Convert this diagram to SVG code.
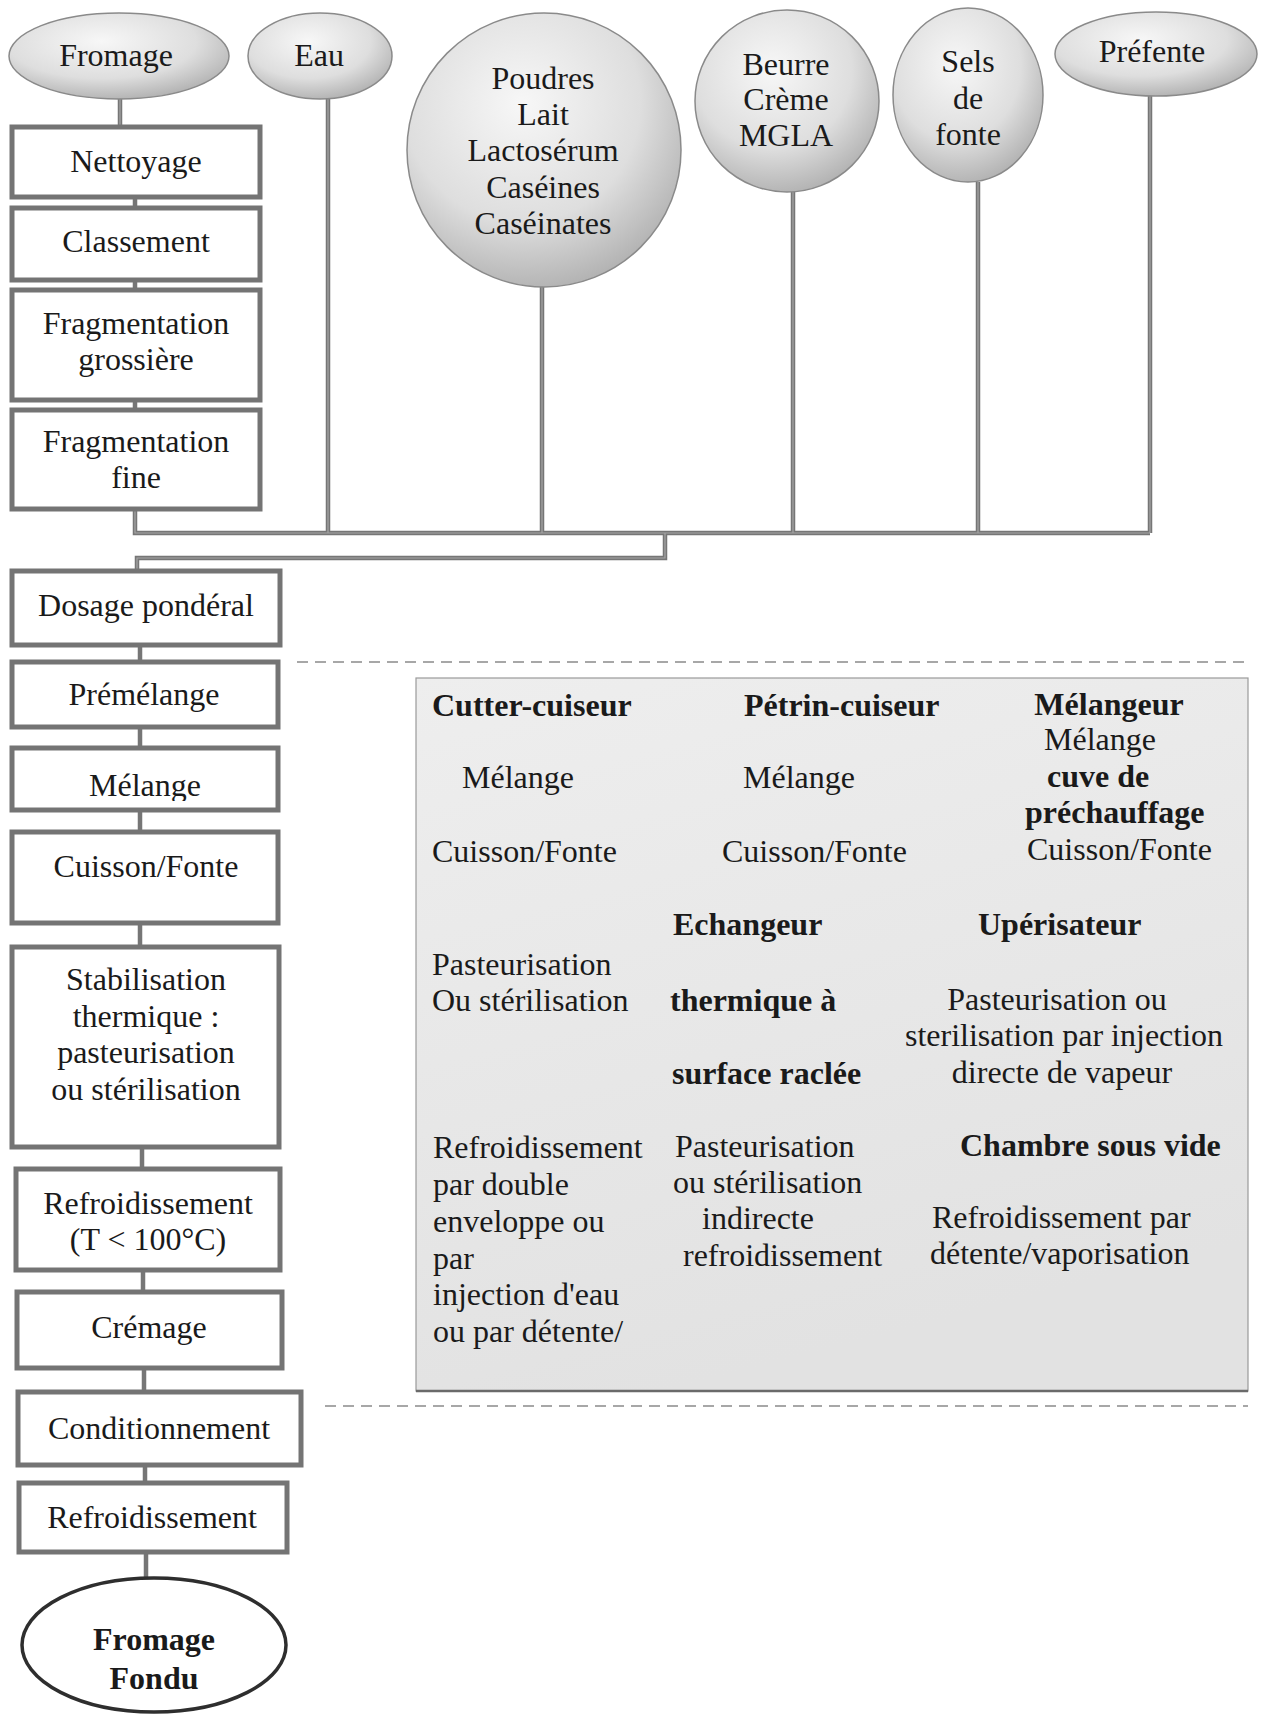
<svg xmlns="http://www.w3.org/2000/svg" width="1261" height="1716" viewBox="0 0 1261 1716">
<style>
  text { font-family: "Liberation Serif", "Times New Roman", serif; font-size: 32px; fill: #1a1a1a; }
  .c { text-anchor: middle; }
  .b { font-weight: bold; }
  .box { fill: #ffffff; stroke: #747474; stroke-width: 5; }
  .oval { fill: url(#og); stroke: #8a8a8a; stroke-width: 1.5; }
  .ln { fill: none; stroke: #767676; stroke-width: 4.5; stroke-linejoin: miter; }
  .lnin { fill: none; stroke: #a6a6a6; stroke-width: 1.2; }
  .dash { fill: none; stroke: #8a8a8a; stroke-width: 1.6; stroke-dasharray: 11 7; }
</style>
<defs>
  <radialGradient id="og" cx="0.42" cy="0.33" r="0.72">
    <stop offset="0" stop-color="#f7f7f7"/>
    <stop offset="0.6" stop-color="#dedede"/>
    <stop offset="1" stop-color="#adadad"/>
  </radialGradient>
  <linearGradient id="pg" x1="0" y1="0" x2="0.3" y2="1">
    <stop offset="0" stop-color="#eeeeee"/>
    <stop offset="1" stop-color="#e2e2e2"/>
  </linearGradient>
  <clipPath id="clipMel"><rect x="12" y="748" width="266" height="53"/></clipPath>
</defs>
<rect width="1261" height="1716" fill="#ffffff"/>

<g id="connectors">
  <path class="ln" d="M120 99 V127 M135 197 V208 M135 280 V290 M135 400 V410 M135 509 V533 H1150 M328 99 V533 M542 287 V533 M793 192 V533 M978 182 V533 M1150 96 V533 M665 533 V558 H137 V571 M140 645 V662 M140 727 V748 M140 810 V832 M140 923 V947 M142 1147 V1169 M143 1270 V1292 M144 1368 V1392 M145 1465 V1483 M146 1552 V1578"/>
  <path class="lnin" d="M120 99 V127 M135 509 V533 H1150 M328 99 V533 M542 287 V533 M793 192 V533 M978 182 V533 M1150 96 V533 M665 533 V558 H137 V571"/>
</g>

<g id="separators">
  <line class="dash" x1="297" y1="662" x2="1248" y2="662"/>
  <line class="dash" x1="325" y1="1406" x2="1248" y2="1406"/>
</g>

<g id="n-fromage"><ellipse class="oval" cx="119" cy="56" rx="110" ry="43"/><text class="c" x="116" y="66">Fromage</text></g>
<g id="n-eau"><ellipse class="oval" cx="320" cy="56" rx="72" ry="43"/><text class="c" x="319" y="66">Eau</text></g>
<g id="n-poudres"><ellipse class="oval" cx="544" cy="150" rx="137" ry="137"/>
  <text class="c" x="543" y="89">Poudres</text><text class="c" x="543" y="125">Lait</text><text class="c" x="543" y="161">Lactosérum</text><text class="c" x="543" y="198">Caséines</text><text class="c" x="543" y="234">Caséinates</text></g>
<g id="n-beurre"><ellipse class="oval" cx="787" cy="101" rx="92" ry="91"/>
  <text class="c" x="786" y="75">Beurre</text><text class="c" x="786" y="110">Crème</text><text class="c" x="786" y="146">MGLA</text></g>
<g id="n-sels"><ellipse class="oval" cx="968" cy="95" rx="75" ry="87"/>
  <text class="c" x="968" y="72">Sels</text><text class="c" x="968" y="109">de</text><text class="c" x="968" y="145">fonte</text></g>
<g id="n-prefente"><ellipse class="oval" cx="1156" cy="54" rx="101" ry="42"/><text class="c" x="1152" y="62">Préfente</text></g>

<g id="n-nettoyage"><rect class="box" x="12" y="127" width="248" height="70"/><text class="c" x="136" y="172">Nettoyage</text></g>
<g id="n-classement"><rect class="box" x="12" y="208" width="248" height="72"/><text class="c" x="136" y="252">Classement</text></g>
<g id="n-fraggros"><rect class="box" x="12" y="290" width="248" height="110"/><text class="c" x="136" y="334">Fragmentation</text><text class="c" x="136" y="370">grossière</text></g>
<g id="n-fragfine"><rect class="box" x="12" y="410" width="248" height="99"/><text class="c" x="136" y="452">Fragmentation</text><text class="c" x="136" y="488">fine</text></g>

<g id="n-dosage"><rect class="box" x="12" y="571" width="268" height="74"/><text class="c" x="146" y="616">Dosage pondéral</text></g>
<g id="n-premelange"><rect class="box" x="12" y="662" width="266" height="65"/><text class="c" x="144" y="705">Prémélange</text></g>
<g id="n-melange"><rect class="box" x="12" y="748" width="266" height="62"/><text class="c" x="145" y="796" clip-path="url(#clipMel)">Mélange</text></g>
<g id="n-cuisson"><rect class="box" x="12" y="832" width="266" height="91"/><text class="c" x="146" y="877">Cuisson/Fonte</text></g>
<g id="n-stabilisation"><rect class="box" x="12" y="947" width="267" height="200"/>
  <text class="c" x="146" y="990">Stabilisation</text><text class="c" x="146" y="1027">thermique :</text><text class="c" x="146" y="1063">pasteurisation</text><text class="c" x="146" y="1100">ou stérilisation</text></g>
<g id="n-refroid1"><rect class="box" x="16" y="1169" width="264" height="101"/><text class="c" x="148" y="1214">Refroidissement</text><text class="c" x="148" y="1250">(T &lt; 100°C)</text></g>
<g id="n-cremage"><rect class="box" x="17" y="1292" width="265" height="76"/><text class="c" x="149" y="1338">Crémage</text></g>
<g id="n-condition"><rect class="box" x="18" y="1392" width="283" height="73"/><text class="c" x="159" y="1439">Conditionnement</text></g>
<g id="n-refroid2"><rect class="box" x="19" y="1483" width="268" height="69"/><text class="c" x="152" y="1528">Refroidissement</text></g>
<g id="n-fondu"><ellipse cx="154" cy="1645" rx="132" ry="67" fill="#ffffff" stroke="#2e2e2e" stroke-width="3.5"/>
  <text class="c b" x="154" y="1650">Fromage</text><text class="c b" x="154" y="1689">Fondu</text></g>

<g id="n-equipements">
  <rect x="416" y="678" width="832" height="713" fill="url(#pg)" stroke="#9a9a9a" stroke-width="1.2"/>
  <line x1="416" y1="1391" x2="1248" y2="1391" stroke="#6a6a6a" stroke-width="2.5"/>
  <text class="b" x="432" y="716">Cutter-cuiseur</text>
  <text class="b" x="744" y="716">Pétrin-cuiseur</text>
  <text class="c b" x="1109" y="715">Mélangeur</text>
  <text class="c" x="1100" y="750">Mélange</text>
  <text class="b" x="1047" y="787">cuve de</text>
  <text class="b" x="1025" y="823">préchauffage</text>
  <text x="1027" y="860">Cuisson/Fonte</text>
  <text x="462" y="788">Mélange</text>
  <text x="743" y="788">Mélange</text>
  <text x="432" y="862">Cuisson/Fonte</text>
  <text x="722" y="862">Cuisson/Fonte</text>
  <text class="b" x="673" y="935">Echangeur</text>
  <text class="b" x="978" y="935">Upérisateur</text>
  <text x="432" y="975">Pasteurisation</text>
  <text x="432" y="1011">Ou stérilisation</text>
  <text class="b" x="670" y="1011">thermique à</text>
  <text class="c" x="1057" y="1010">Pasteurisation ou</text>
  <text class="c" x="1064" y="1046">sterilisation par injection</text>
  <text class="b" x="672" y="1084">surface raclée</text>
  <text class="c" x="1062" y="1083">directe de vapeur</text>
  <text x="433" y="1158">Refroidissement</text>
  <text x="433" y="1195">par double</text>
  <text x="433" y="1232">enveloppe ou</text>
  <text x="433" y="1269">par</text>
  <text x="433" y="1305">injection d'eau</text>
  <text x="433" y="1342">ou par détente/</text>
  <text x="675" y="1157">Pasteurisation</text>
  <text x="673" y="1193">ou stérilisation</text>
  <text x="702" y="1229">indirecte</text>
  <text x="683" y="1266">refroidissement</text>
  <text class="b" x="960" y="1156">Chambre sous vide</text>
  <text x="932" y="1228">Refroidissement par</text>
  <text x="930" y="1264">détente/vaporisation</text>
</g>
</svg>
